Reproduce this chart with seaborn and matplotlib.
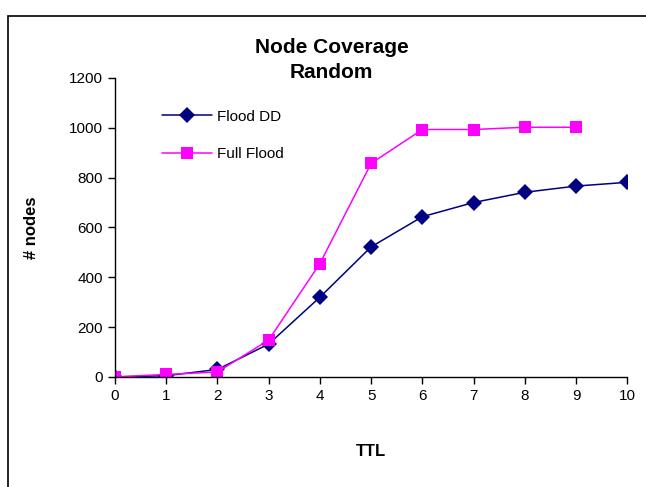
import numpy as np
import pandas as pd
import matplotlib
matplotlib.use("Agg")
import matplotlib.pyplot as plt
import seaborn as sns
from matplotlib.patches import Rectangle

# data
ttl = [0, 1, 2, 3, 4, 5, 6, 7, 8, 9, 10]
flood_dd = [0, 5, 30, 132, 320, 522, 643, 700, 741, 766, 781]
ttl_full = [0, 1, 2, 3, 4, 5, 6, 7, 8, 9]
full_flood = [0, 10, 20, 148, 455, 857, 993, 993, 1002, 1002]
yticks = [0, 200, 400, 600, 800, 1000, 1200]

sns.set_style("white")
plt.rcParams['font.family'] = ['Liberation Sans', 'DejaVu Sans']
plt.rcParams['text.color'] = 'black'
plt.rcParams['axes.labelcolor'] = 'black'
plt.rcParams['xtick.color'] = 'black'
plt.rcParams['ytick.color'] = 'black'

df = pd.concat([
    pd.DataFrame({"TTL": ttl, "nodes": flood_dd, "series": "Flood DD"}),
    pd.DataFrame({"TTL": ttl_full, "nodes": full_flood, "series": "Full Flood"}),
])

fig = plt.figure(figsize=(6.46, 4.87), dpi=100)
ax = fig.add_axes([0.178, 0.226, 0.793, 0.614])

sns.lineplot(data=df, x="TTL", y="nodes", hue="series", style="series",
             palette={"Flood DD": "#000080", "Full Flood": "#FF00FF"},
             markers={"Flood DD": "D", "Full Flood": "s"}, dashes=False,
             markersize=8, linewidth=1.1, markeredgewidth=0, ax=ax)

ax.set_xlim(0, 10)
ax.set_ylim(0, 1200)
ax.set_xticks(ttl)
ax.set_yticks(yticks)
ax.tick_params(axis='both', direction='out', length=5, width=1, labelsize=11,
               left=True, bottom=True, color='black')
for side in ['top', 'right']:
    ax.spines[side].set_visible(False)
for side in ['left', 'bottom']:
    ax.spines[side].set_color('black')
    ax.spines[side].set_linewidth(1)

ax.set_xlabel("TTL", fontsize=12, fontweight='bold', labelpad=30)
ax.set_ylabel("# nodes", fontsize=12, fontweight='bold', labelpad=22)

leg = ax.legend(loc='upper left', bbox_to_anchor=(0.065, 0.94), frameon=False,
                fontsize=11, handlelength=3.3, handletextpad=0.3, labelspacing=1.55)

fig.text(0.513, 0.877, "Node Coverage\nRandom", ha='center', va='center',
         fontsize=15, fontweight='bold', linespacing=1.45)

# chart frame like the spreadsheet export
fig.patches.append(Rectangle((0.013, -0.1), 1.2, 1.067, transform=fig.transFigure,
                             fill=False, edgecolor='black', linewidth=1.2))

fig.savefig("out.png", dpi=100)
